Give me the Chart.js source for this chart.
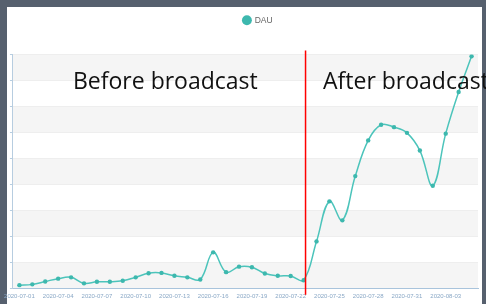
<!DOCTYPE html>
<html>
<head>
<meta charset="utf-8">
<script src="https://cdn.jsdelivr.net/npm/chart.js@4"></script>
<style>
  html, body { margin: 0; padding: 0; background: #56606e; }
  #wrap { width: 486px; height: 304px; position: relative; }
</style>
</head>
<body>
<div id="wrap"><canvas id="dauChart" width="486" height="304"></canvas></div>
<script>
// days on the x axis
const dates = [
    '2020-07-01', '2020-07-02', '2020-07-03', '2020-07-04', '2020-07-05', '2020-07-06',
    '2020-07-07', '2020-07-08', '2020-07-09', '2020-07-10', '2020-07-11', '2020-07-12',
    '2020-07-13', '2020-07-14', '2020-07-15', '2020-07-16', '2020-07-17', '2020-07-18',
    '2020-07-19', '2020-07-20', '2020-07-21', '2020-07-22', '2020-07-23', '2020-07-24',
    '2020-07-25', '2020-07-26', '2020-07-27', '2020-07-28', '2020-07-29', '2020-07-30',
    '2020-07-31', '2020-08-01', '2020-08-02', '2020-08-03', '2020-08-04', '2020-08-05'
];

// daily active users (axis has no visible labels)
const dau = [
    14, 17, 28, 39, 44, 21, 27, 27, 31, 44, 60, 61,
    50, 44, 36, 140, 64, 85, 83, 59, 50, 49, 33, 182,
    336, 263, 433, 570, 630, 621, 599, 531, 396, 596, 756, 893
];

const yMax = 900;
const yStep = 100;

// where the broadcast happened, in category units
const broadcastAt = 22.15;
const beforeLabel = 'Before broadcast';
const afterLabel = 'After broadcast';

const lineColor = '#4cc4bb';

// frame, striped background bands
const backgroundPlugin = {
    id: 'background',
    beforeDraw(chart) {
        const ctx = chart.ctx;
        const area = chart.chartArea;
        const y = chart.scales.y;
        ctx.save();
        ctx.fillStyle = '#56606e';
        ctx.fillRect(0, 0, chart.width, chart.height);
        ctx.fillStyle = '#ffffff';
        ctx.fillRect(7, 7, chart.width - 11, chart.height - 7);
        // alternating split areas
        for (let v = 0; v < yMax; v += yStep) {
            if ((v / yStep) % 2 === 0) {
                const top = y.getPixelForValue(v + yStep);
                const bottom = y.getPixelForValue(v);
                ctx.fillStyle = '#f5f5f5';
                ctx.fillRect(area.left, top, area.right - area.left, bottom - top);
            }
        }
        ctx.restore();
    }
};

// leave a gap under the legend and nudge it right like the original
const legendSpacing = {
    id: 'legendSpacing',
    beforeInit(chart) {
        const fit = chart.legend.fit;
        chart.legend.fit = function () {
            fit.bind(chart.legend)();
            this.height += 20;
        };
    },
    afterLayout(chart) {
        chart.legend.left += 19;
        chart.legend.right += 19;
    }
};

// red broadcast marker and the two captions
const broadcastPlugin = {
    id: 'broadcast',
    afterDraw(chart) {
        const ctx = chart.ctx;
        const area = chart.chartArea;
        const x = chart.scales.x;
        const y = chart.scales.y;
        const step = x.getPixelForValue(1) - x.getPixelForValue(0);
        const x0 = x.getPixelForValue(0);
        const px = x0 + broadcastAt * step;

        ctx.save();
        ctx.strokeStyle = '#ff0000';
        ctx.lineWidth = 1.5;
        ctx.beginPath();
        ctx.moveTo(px, area.top - 4);
        ctx.lineTo(px, area.bottom + 6);
        ctx.stroke();

        ctx.fillStyle = '#111111';
        ctx.font = '23px "Open Sans", sans-serif';
        ctx.textBaseline = 'alphabetic';
        const baseY = y.getPixelForValue(767);
        ctx.textAlign = 'center';
        ctx.fillText(beforeLabel, x0 + 11.3 * step, baseY);
        ctx.textAlign = 'left';
        ctx.fillText(afterLabel, x0 + 23.5 * step, baseY);
        ctx.restore();
    }
};

const ctx = document.getElementById('dauChart').getContext('2d');
new Chart(ctx, {
    type: 'line',
    data: {
        labels: dates,
        datasets: [{
            label: 'DAU',
            data: dau,
            borderColor: lineColor,
            backgroundColor: lineColor,
            borderWidth: 1.5,
            pointRadius: 2.2,
            pointBackgroundColor: '#3db8ae',
            pointBorderWidth: 0,
            tension: 0.4,
            fill: false
        }]
    },
    options: {
        responsive: false,
        animation: false,
        layout: {
            padding: { left: 0, right: 8, top: 8, bottom: 0 }
        },
        plugins: {
            legend: {
                display: true,
                position: 'top',
                labels: {
                    usePointStyle: true,
                    pointStyle: 'circle',
                    boxWidth: 7,
                    boxHeight: 7,
                    padding: 8,
                    color: '#666666',
                    font: { size: 8.5, family: '"Liberation Sans Narrow", "Liberation Sans", sans-serif' }
                }
            },
            tooltip: { enabled: false }
        },
        scales: {
            x: {
                offset: true,
                grid: { display: false, drawTicks: false },
                border: { display: true, color: '#a9c4dc', width: 1 },
                ticks: {
                    autoSkip: false,
                    maxRotation: 0,
                    padding: 4,
                    color: '#8aa8c6',
                    font: { size: 6, family: '"Liberation Sans Narrow", "Liberation Sans", sans-serif' },
                    callback: function (value, index) {
                        return index % 3 === 0 ? dates[index] : '';
                    }
                }
            },
            y: {
                min: 0,
                max: yMax,
                ticks: { display: false, stepSize: yStep },
                grid: {
                    color: '#eeeeee',
                    tickColor: '#b7cde0',
                    tickLength: 3,
                    drawTicks: true
                },
                border: { display: true, color: '#b7cde0', width: 1 }
            }
        }
    },
    plugins: [backgroundPlugin, legendSpacing, broadcastPlugin]
});
</script>
</body>
</html>
